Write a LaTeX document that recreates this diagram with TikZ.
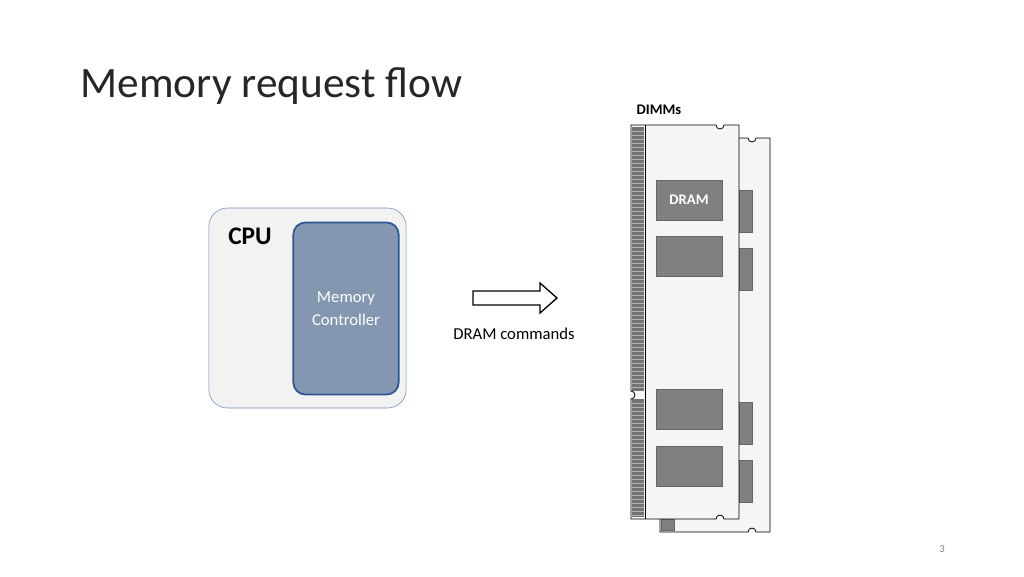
\documentclass[tikz,border=0pt]{standalone}
\usepackage{fontspec}
\setmainfont{Carlito}
\definecolor{mcfill}{HTML}{8497B0}
\definecolor{mcline}{HTML}{2F5597}
\definecolor{chip}{HTML}{808080}
\begin{document}
\begin{tikzpicture}[x=0.75pt,y=-0.75pt,
    chip/.style={fill=chip, draw=chip!80!black, line width=0.3pt},
    board/.style={fill=gray!8, draw=black, line width=0.6pt}]
    \useasboundingbox (0,0) rectangle (1024,576);
    % Title
    \node[anchor=west, font=\fontsize{32.5}{38}\selectfont, text=black!85] (title) at (76,86) {Memory request flow};

    % CPU
    \node[draw=mcline!70, fill=gray!10, rounded corners=14pt, minimum width=148pt, minimum height=150pt] (cpu) at (307.5,308) {};
    \node[font=\fontsize{19}{22}\selectfont\bfseries] (cpulbl) at (250,236) {CPU};
    \node[draw=mcline, line width=1.3pt, fill=mcfill, rounded corners=9pt, minimum width=79pt, minimum height=129pt,
        align=center, text=white, font=\fontsize{12.5}{17}\selectfont] (mc) at (346,308.5) {Memory\\Controller};

    % Arrow
    \draw[line width=1pt, fill=white] (473,291) -- (540,291) -- (540,283) -- (557,298) -- (540,313) -- (540,305) -- (473,305) -- cycle;
    \node[font=\fontsize{12.5}{15}\selectfont] (cmd) at (514,334) {DRAM commands};

    % DIMMs
    \node[font=\fontsize{11}{13}\selectfont\bfseries] (dimms) at (659,110) {DIMMs};
    % back module
    \draw[board] (660,138) -- (748,138) arc (180:0:4) -- (770,138) -- (770,532) -- (756,532) arc (0:-180:4) -- (660,532) -- cycle;
    \fill[chip] (661,519) rectangle (674,530);
    \foreach \y in {190,248,402,460} {
        \fill[chip] (739,\y) rectangle (752,\y+42);
    }
    % front module
    \draw[board] (631,125) -- (716,125) arc (180:0:4) -- (739,125) -- (739,519) -- (724,519) arc (0:-180:4) -- (631,519) -- (631,399) arc (90:-90:4) -- (631,391) -- cycle;
    \fill[chip!90!black] (632,127) rectangle (644,391);
    \fill[chip!90!black] (632,399) rectangle (644,517);
    \foreach \y in {131,135,...,389} {
        \draw[gray!60, line width=0.3pt] (632,\y) -- (644,\y);
    }
    \foreach \y in {403,407,...,515} {
        \draw[gray!60, line width=0.3pt] (632,\y) -- (644,\y);
    }
    \draw[line width=0.6pt] (645,125) -- (645,519);
    \node[chip, minimum width=49.5pt, minimum height=30pt, text=white, font=\fontsize{11}{13}\selectfont\bfseries] (dram) at (689,200) {DRAM};
    \foreach \y in {256,409,466} {
        \fill[chip] (656,\y-20) rectangle (722,\y+20);
    }

    % Page number
    \node[font=\fontsize{8}{10}\selectfont, text=gray] (page) at (942,549) {3};
\end{tikzpicture}
\end{document}
